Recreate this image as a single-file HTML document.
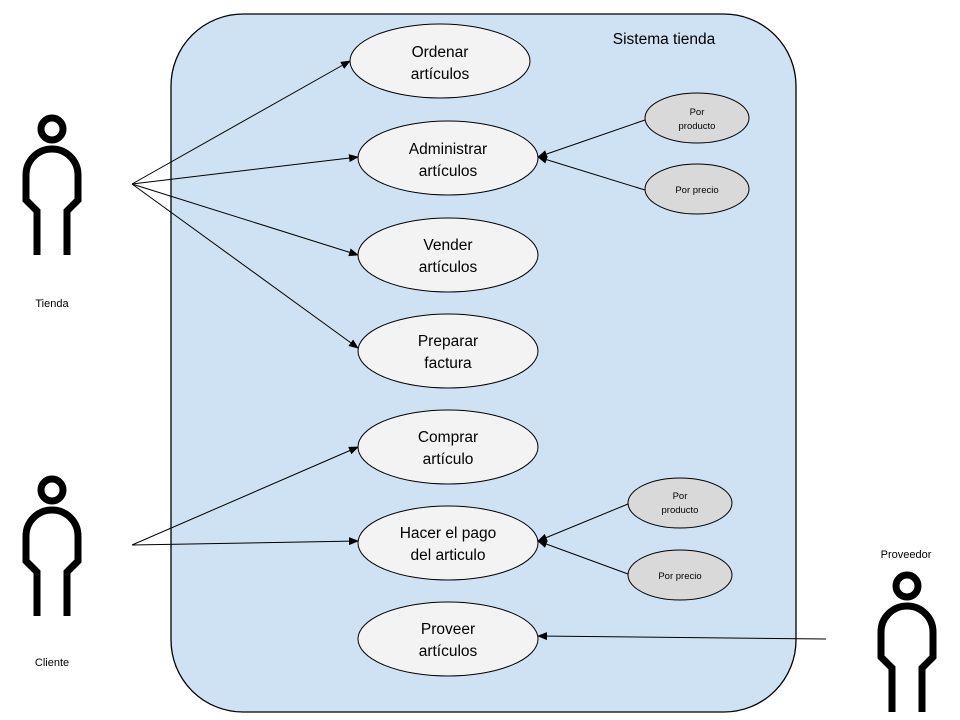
<!DOCTYPE html>
<html><head><meta charset="utf-8"><style>body{margin:0;background:#fff}svg{display:block}text{font-family:"Liberation Sans",sans-serif}</style></head><body>
<svg width="960" height="720" viewBox="0 0 960 720" xmlns="http://www.w3.org/2000/svg">
<defs>
<marker id="a" markerWidth="10" markerHeight="8" refX="9" refY="4" orient="auto" markerUnits="userSpaceOnUse"><path d="M0,0 L10,4 L0,8 Z" fill="#000"/></marker>
<g id="actor" fill="none" stroke="#000" stroke-width="7">
<circle cx="0" cy="0" r="11"/>
<path d="M-15,126 V82 L-26,71 V46 A26,26 0 0 1 26,46 V71 L15,82 V126"/>
</g>
</defs>
<rect x="171" y="14" width="625" height="698" rx="72" fill="#cfe2f3" stroke="#000" stroke-width="1.3"/>
<text x="664" y="44" font-size="15.5" text-anchor="middle">Sistema tienda</text>

<use href="#actor" x="52" y="129"/>
<use href="#actor" x="52" y="490"/>
<use href="#actor" x="907" y="586"/>
<text x="52" y="307" font-size="11" text-anchor="middle">Tienda</text>
<text x="52" y="666" font-size="11" text-anchor="middle">Cliente</text>
<text x="906" y="558" font-size="11" text-anchor="middle">Proveedor</text>

<g stroke="#000" stroke-width="1" marker-end="url(#a)">
<line x1="132" y1="184" x2="350" y2="61"/>
<line x1="132" y1="184" x2="358" y2="157"/>
<line x1="132" y1="184" x2="358" y2="255"/>
<line x1="132" y1="184" x2="358" y2="348"/>
<line x1="132" y1="545" x2="358" y2="447"/>
<line x1="132" y1="545" x2="358" y2="541"/>
<line x1="826" y1="639" x2="538" y2="636"/>
<line x1="645" y1="120" x2="538" y2="157"/>
<line x1="645" y1="190" x2="538" y2="157"/>
<line x1="628" y1="504" x2="538" y2="541"/>
<line x1="628" y1="574" x2="538" y2="541"/>
</g>

<g fill="#f3f3f3" stroke="#000" stroke-width="1">
<ellipse cx="440" cy="61" rx="90" ry="37"/>
<ellipse cx="448" cy="158" rx="90" ry="37"/>
<ellipse cx="448" cy="255" rx="90" ry="37"/>
<ellipse cx="448" cy="351" rx="90" ry="37"/>
<ellipse cx="448" cy="447" rx="90" ry="37"/>
<ellipse cx="448" cy="543" rx="90" ry="37"/>
<ellipse cx="448" cy="639" rx="90" ry="37"/>
</g>
<g fill="#d9d9d9" stroke="#000" stroke-width="1">
<ellipse cx="697" cy="118" rx="52" ry="25"/>
<ellipse cx="697" cy="189" rx="52" ry="25"/>
<ellipse cx="680" cy="503" rx="52" ry="25"/>
<ellipse cx="680" cy="575" rx="52" ry="25"/>
</g>
<g font-size="15.5" text-anchor="middle">
<text x="440" y="57">Ordenar</text><text x="440" y="79">artículos</text>
<text x="448" y="154">Administrar</text><text x="448" y="176">artículos</text>
<text x="448" y="250">Vender</text><text x="448" y="272">artículos</text>
<text x="448" y="346">Preparar</text><text x="448" y="368">factura</text>
<text x="448" y="442">Comprar</text><text x="448" y="464">artículo</text>
<text x="448" y="538">Hacer el pago</text><text x="448" y="560">del articulo</text>
<text x="448" y="634">Proveer</text><text x="448" y="656">artículos</text>
</g>
<g font-size="9.5" text-anchor="middle">
<text x="697" y="115">Por</text><text x="697" y="129">producto</text>
<text x="697" y="193">Por precio</text>
<text x="680" y="499">Por</text><text x="680" y="513">producto</text>
<text x="680" y="579">Por precio</text>
</g>
</svg>
</body></html>
